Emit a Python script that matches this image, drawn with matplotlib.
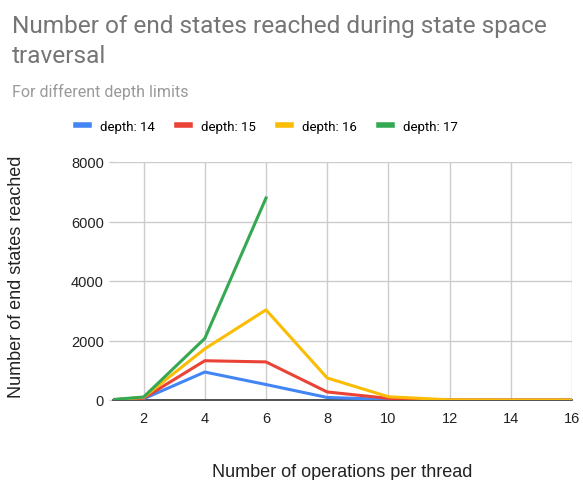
import matplotlib
matplotlib.use("Agg")
import matplotlib.pyplot as plt
import numpy as np

# Operations per thread and the number of end states reached per depth limit
ops = [1, 2, 4, 6, 8, 10, 12, 14, 16]
depth_14 = [10, 40, 940, 520, 85, 20, 0, 0, 0]
depth_15 = [10, 60, 1320, 1280, 270, 55, 0, 0, 0]
depth_16 = [10, 90, 1720, 3030, 740, 110, 5, 0, 0]
ops_17 = [1, 2, 4, 6]
depth_17 = [15, 100, 2070, 6790]

series_labels = ["depth: 14", "depth: 15", "depth: 16", "depth: 17"]
series_colors = ["#4285F4", "#EA4335", "#FBBC04", "#34A853"]
x_ticks = [2, 4, 6, 8, 10, 12, 14, 16]
y_ticks = [0, 2000, 4000, 6000, 8000]

W, H = 583, 481
fig = plt.figure(figsize=(W / 100, H / 100), dpi=100)
ax = fig.add_axes([113 / W, 1 - 401 / H, (572 - 113) / W, (401 - 163) / H])

xs = [ops, ops, ops, ops_17]
ys = [depth_14, depth_15, depth_16, depth_17]
handles = []
for x, y, lab, col in zip(xs, ys, series_labels, series_colors):
    h, = ax.plot(x, y, color=col, lw=2.2, label=lab, solid_joinstyle="round", zorder=3)
    handles.append(h)

ax.set_xlim(1, 16)
ax.set_ylim(0, 8000)
ax.set_xticks(x_ticks)
ax.set_yticks(y_ticks)
ax.grid(True, color="#cccccc", lw=1)
ax.set_axisbelow(True)
for s in ["top", "right", "left"]:
    ax.spines[s].set_visible(False)
ax.spines["bottom"].set_color("#333333")
ax.spines["bottom"].set_linewidth(1.2)
ax.spines["bottom"].set_zorder(2)

ax.tick_params(axis="both", colors="#cccccc", labelcolor="#222222", length=3, width=1)
ax.tick_params(axis="x", length=0, pad=8)
for lbl in ax.get_xticklabels() + ax.get_yticklabels():
    lbl.set_fontfamily("Liberation Sans")
    lbl.set_fontsize(10.5)

ax.set_xlabel("Number of operations per thread", fontsize=13,
              family="Liberation Sans", color="#222222", labelpad=27)
ax.set_ylabel("Number of end states reached", fontsize=13,
              family="Liberation Sans", color="#222222", labelpad=27)
ax.yaxis.set_label_coords(-(113 - 25) / (572 - 113), 0.52)

fig.text(12 / W, 1 - 33 / H, "Number of end states reached during state space",
         fontsize=17.6, family="Roboto", color="#757575", va="baseline")
fig.text(12 / W, 1 - 63 / H, "traversal",
         fontsize=17.6, family="Roboto", color="#757575", va="baseline")
fig.text(12 / W, 1 - 97 / H, "For different depth limits",
         fontsize=11.5, family="Roboto", color="#999999", va="baseline")

fig.legend(handles=handles, loc="center left", bbox_to_anchor=(64 / W, 1 - 127 / H),
           ncol=4, frameon=False, prop=dict(family="Roboto", size=9.5),
           handlelength=1.0, handletextpad=0.8, columnspacing=1.7)
for lh in fig.legends[0].get_lines():
    lh.set_linewidth(4)

fig.savefig("out.png", dpi=100)
